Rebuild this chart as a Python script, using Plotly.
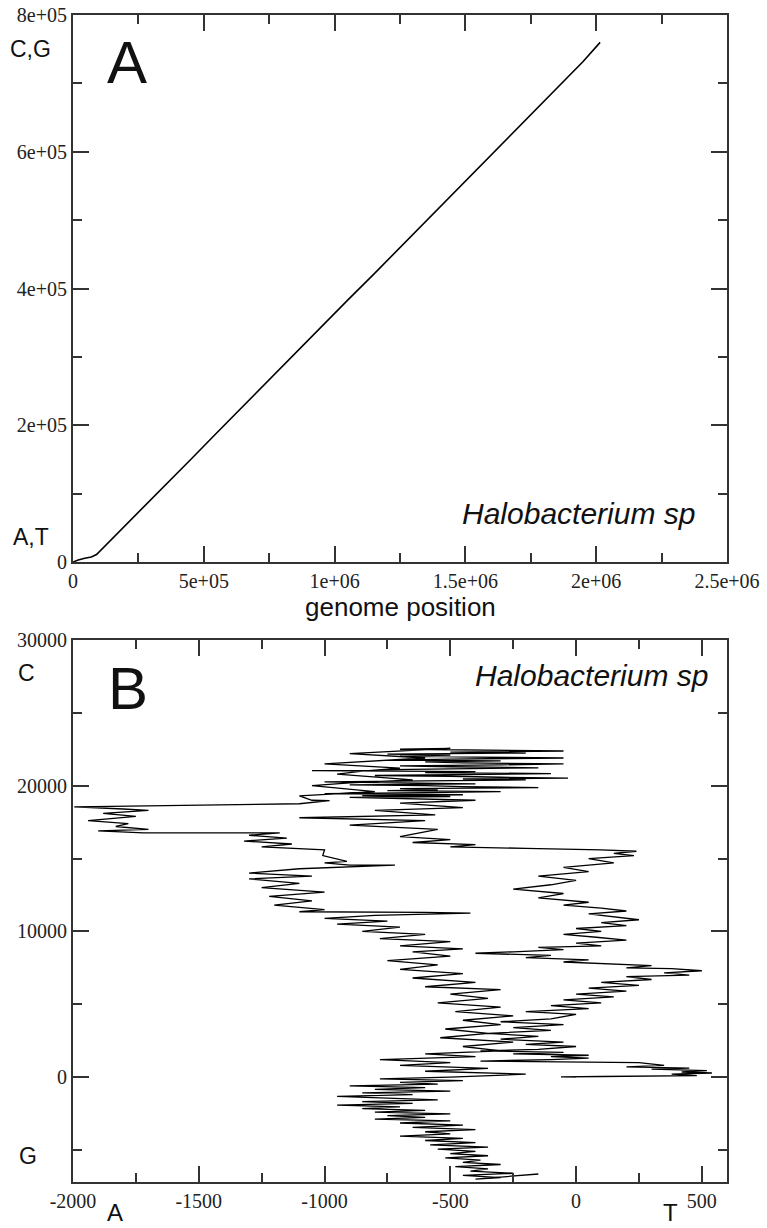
import plotly.graph_objects as go

# ---------------- data ----------------
# Panel A: cumulative walk (C,G up / A,T down) vs genome position
posA = [0, 20000, 45000, 70000, 90000, 150000, 250000, 350000, 450000, 550000,
        650000, 750000, 850000, 950000, 1050000, 1150000, 1250000, 1350000,
        1450000, 1550000, 1650000, 1750000, 1850000, 1950000, 2015000]
walkA = [0, 3000, 5500, 7300, 11000, 34000, 73000, 111000, 150000, 189000,
         228000, 266000, 305000, 344000, 383000, 421000, 460000, 499000,
         538000, 577000, 615000, 654000, 693000, 732000, 760000]

# Panel B: 2D walk, x = T - A, y = C - G (traced by eye, in path order)
startX = [0, -60, 100, 250, 480, 380, 540, 420, 520, 300, 450, 200, 350, 250, -380, -100, 50]
startY = [0, 20, 40, 60, 100, 200, 280, 350, 450, 550, 620, 700, 800, 1000, 1100, 1200, 1300]

rightX = [-100, 50, -250, -50, -380, -150, 0, -200, -50, -300, -150, -350, -100, -250,
          -50, -300, -100, 0, -200, 50, -100, 100, -50, 150, 0, 200, 50, 250, 100, 300,
          200, 450, 350, 500, 380, 200, 300, 100, -50, 50, -200, -100, -400, -250, -50,
          -150, 100, 0, 200, 80, -50, 100, 0, 200, 100, 250, 150, 50, 200, 100, -50, 50,
          -150, -50, -250, -100, 0, -150, 50, -50, 150, 50, 230, 150, 240, 100]
rightY = [1400, 1500, 1600, 1700, 1800, 1900, 2100, 2250, 2400, 2600, 2800, 3000, 3200, 3400,
          3600, 3800, 4000, 4300, 4500, 4700, 4900, 5100, 5300, 5500, 5700, 5900, 6100, 6300, 6500, 6700,
          6900, 7000, 7150, 7300, 7450, 7500, 7650, 7800, 7900, 8050, 8200, 8350, 8500, 8600, 8750,
          8900, 9000, 9200, 9400, 9600, 9800, 10000, 10200, 10400, 10600, 10800, 11000, 11200, 11400, 11600, 11800, 12000,
          12300, 12600, 12900, 13200, 13500, 13800, 14100, 14400, 14700, 15000, 15200, 15350, 15500, 15600]

midX = [-200, -500, -400, -650, -500, -700, -550, -900, -600, -1100, -560, -800,
        -450, -700, -400]
midY = [15700, 15800, 15950, 16100, 16300, 16500, 17000, 17300, 17600, 17800, 18000, 18300,
        18500, 18800, 19000]

topX = [-900, -500, -850, -450, -1000, -600, -300, -750, -550, -700, -150, -450, -600,
        -900, -400, -700, -1000, -600, -200, -450, -32, -300, -500, -800, -350, -100,
        -600, -400, -1050, -700, -400, -150, -500, -700, -300, -50, -450, -600, -300,
        -750, -500, -50, -400, -700, -500, -750, -200, -500, -50, -450, -700, -500]
topY = [19200, 19260, 19320, 19380, 19450, 19520, 19600, 19660, 19720, 19800, 19870, 19930, 20000,
        20060, 20130, 20200, 20260, 20330, 20400, 20460, 20520, 20580, 20650, 20700, 20760, 20830,
        20900, 20960, 21030, 21100, 21160, 21230, 21300, 21360, 21430, 21500, 21560, 21630, 21700,
        21760, 21830, 21900, 21960, 22030, 22100, 22170, 22240, 22300, 22380, 22440, 22500, 22560]

descX = [-900, -600, -1000, -700, -850, -950, -650, -900, -1050, -800, -1100, -1050, -980]
descY = [22200, 21900, 21500, 21200, 21000, 20800, 20400, 20200, 20000, 19600, 19300, 19000, 18970]

farX = [-1100, -1850, -1995, -1800, -1700, -1880, -1750, -1940, -1780, -1830, -1700,
        -1900, -1720, -1178]
farY = [18760, 18620, 18550, 18400, 18300, 18100, 17900, 17600, 17400, 17200, 17000,
        16900, 16760, 16760]

midLX = [-1300, -1150, -1320, -1130, -1250, -1000, -1007, -911, -1000, -900, -720]
midLY = [16600, 16400, 16200, 16000, 15800, 15600, 15200, 14800, 14700, 14550, 14550]

leftX = [-1100, -1300, -1050, -1300, -1100, -1250, -1000, -1220, -1050, -1200, -1000,
         -1100, -600, -420, -800, -1000, -750, -950, -700, -850, -600, -780, -500, -700,
         -450, -650, -500, -750, -550, -700, -450, -650, -400, -600, -300, -500, -350,
         -550, -300, -480, -250, -450, -300, -520, -350, -540, -250, -450, -300, -600,
         -400, -780, -500, -700, -350, -600, -200, -500]
leftY = [14300, 14000, 13800, 13600, 13300, 13000, 12700, 12400, 12100, 11800, 11500,
         11350, 11300, 11250, 11100, 10900, 10700, 10500, 10300, 10000, 9800, 9500, 9300, 9000,
         8800, 8600, 8300, 8000, 7700, 7400, 7100, 6800, 6500, 6200, 6000, 5700, 5400,
         5100, 4800, 4500, 4200, 3900, 3600, 3300, 3000, 2700, 2400, 2100, 1800, 1600,
         1400, 1200, 1000, 800, 600, 400, 200, 0]

lowX = [-780, -450, -700, -550, -900, -600, -800, -500, -850, -650, -950, -700, -550,
        -850, -650, -950, -700, -850, -600, -800, -500, -750, -600, -800, -500, -700,
        -450, -650, -400, -600, -500, -700, -450, -600, -400, -580, -350, -550, -400,
        -500, -350, -520, -380, -450, -300, -480, -350, -420, -250, -450, -300, -400, -150]
lowY = [-120, -240, -360, -480, -600, -720, -840, -960, -1080, -1200, -1320, -1440, -1560,
        -1680, -1800, -1920, -2040, -2160, -2280, -2400, -2520, -2640, -2760, -2880, -3000, -3150,
        -3300, -3450, -3600, -3750, -3900, -4050, -4200, -4350, -4500, -4650, -4800, -4950, -5100,
        -5250, -5400, -5550, -5700, -5850, -6000, -6150, -6300, -6450, -6600, -6750, -6900, -7000, -6650]

walkBx = startX + rightX + midX + topX + descX + farX + midLX + leftX + lowX
walkBy = startY + rightY + midY + topY + descY + farY + midLY + leftY + lowY

# ---------------- figure ----------------
fig = go.Figure()
fig.add_trace(go.Scatter(x=posA, y=walkA, mode="lines", xaxis="x", yaxis="y",
                         line=dict(color="black", width=1.6), hoverinfo="skip"))
fig.add_trace(go.Scatter(x=walkBx, y=walkBy, mode="lines", xaxis="x2", yaxis="y2",
                         line=dict(color="black", width=1.3), hoverinfo="skip"))

W, H = 767, 1228
def px(x):
    return x / W
def py(y):
    return 1 - y / H

tickfont = dict(family="Liberation Serif", size=20, color="#222")
axcommon = dict(showgrid=False, zeroline=False, showline=True, linecolor="#333",
                linewidth=2, mirror="ticks", ticks="inside", ticklen=16,
                tickwidth=1.6, tickcolor="#333", tickfont=tickfont,
                automargin=False)

fig.update_layout(
    width=W, height=H, margin=dict(l=0, r=0, t=0, b=0, autoexpand=False),
    paper_bgcolor="white", plot_bgcolor="white", showlegend=False,
    xaxis=dict(domain=[px(73), px(727)], anchor="y", range=[0, 2.5e6],
               tickvals=[0, 5e5, 1e6, 1.5e6, 2e6, 2.5e6],
               ticktext=["0", "5e+05", "1e+06", "1.5e+06", "2e+06", "2.5e+06"],
               minor=dict(ticks="inside", ticklen=9, dtick=2.5e5, tick0=0,
                          tickcolor="#333", tickwidth=1.6),
               **axcommon),
    yaxis=dict(domain=[py(562), py(15)], anchor="x", range=[0, 8e5],
               tickvals=[0, 2e5, 4e5, 6e5, 8e5],
               ticktext=["0", "2e+05", "4e+05", "6e+05", "8e+05"],
               minor=dict(ticks="inside", ticklen=9, dtick=1e5, tick0=0,
                          tickcolor="#333", tickwidth=1.6),
               **axcommon),
    xaxis2=dict(domain=[px(73), px(727)], anchor="y2", range=[-2000, 600],
                tickvals=[-2000, -1500, -1000, -500, 0, 500],
                ticktext=["-2000", "-1500", "-1000", "-500", "0", "500"],
                minor=dict(ticks="inside", ticklen=9, dtick=250, tick0=0,
                           tickcolor="#333", tickwidth=1.6),
                **axcommon),
    yaxis2=dict(domain=[py(1182), py(640)], anchor="x2", range=[-7200, 30000],
                tickvals=[0, 10000, 20000, 30000],
                ticktext=["0", "10000", "20000", "30000"],
                minor=dict(ticks="inside", ticklen=9, dtick=5000, tick0=0,
                           tickcolor="#333", tickwidth=1.6),
                **axcommon),
)

sans = "Liberation Sans"
def ann(text, x, y, size, xanchor="center", italic=False):
    t = f"<i>{text}</i>" if italic else text
    fig.add_annotation(text=t, x=px(x), y=py(y), xref="paper", yref="paper",
                       xanchor=xanchor, yanchor="middle", showarrow=False,
                       font=dict(family=sans, size=size, color="#111"))

ann("C,G", 30, 49, 23)
ann("A,T", 31, 537, 23)
ann("A", 127, 62, 60)
ann("Halobacterium sp", 697, 513, 30, xanchor="right", italic=True)
ann("genome position", 400, 607, 26)
ann("C", 26, 673, 23)
ann("G", 28, 1156, 23)
ann("B", 128, 688, 60)
ann("Halobacterium sp", 710, 675, 30, xanchor="right", italic=True)
ann("A", 115, 1212, 24)
ann("T", 670, 1212, 24)

fig.write_html("out.html")
